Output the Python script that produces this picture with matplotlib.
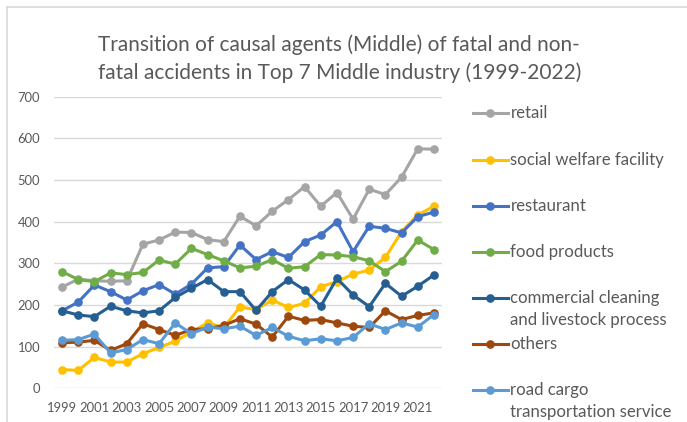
import matplotlib
matplotlib.use('Agg')
import matplotlib.pyplot as plt
from matplotlib.lines import Line2D

# ---------------- data ----------------
years = list(range(1999, 2023))
retail = [243, 262, 258, 257, 258, 346, 356, 375, 374, 357, 352, 413,
          390, 425, 453, 484, 437, 470, 406, 478, 465, 507, 575, 574]
social_welfare = [45, 43, 74, 63, 63, 83, 98, 113, 135, 157, 146, 195,
                  189, 212, 194, 204, 244, 256, 274, 284, 314, 376, 416, 437]
restaurant = [186, 207, 248, 232, 212, 234, 249, 226, 250, 289, 292, 344,
              309, 328, 314, 352, 368, 400, 328, 389, 384, 373, 412, 423]
food_products = [280, 261, 256, 277, 273, 278, 308, 298, 336, 321, 306, 289,
                 293, 309, 288, 292, 321, 320, 316, 306, 280, 305, 356, 333]
commercial_cleaning = [186, 176, 172, 197, 186, 181, 186, 218, 240, 261, 232, 232,
                       187, 232, 261, 236, 197, 264, 224, 196, 252, 221, 245, 272]
others = [109, 111, 115, 91, 107, 155, 141, 127, 141, 143, 151, 167,
          154, 123, 173, 163, 165, 157, 149, 146, 186, 165, 175, 181]
road_cargo = [115, 117, 130, 85, 93, 117, 107, 157, 131, 147, 143, 149,
              127, 146, 125, 114, 119, 114, 122, 155, 141, 157, 147, 177]

series_labels = [
    ["retail"],
    ["social welfare facility"],
    ["restaurant"],
    ["food products"],
    ["commercial cleaning", "and livestock process"],
    ["others"],
    ["road cargo", "transportation service"],
]
series_values = [retail, social_welfare, restaurant, food_products,
                 commercial_cleaning, others, road_cargo]
colors = ["#A5A5A5", "#FFC000", "#4472C4", "#70AD47", "#255E91", "#9E480E", "#5B9BD5"]
x_tick_years = list(range(1999, 2022, 2))
y_ticks = list(range(0, 701, 100))
title_lines = ["Transition of causal agents (Middle) of fatal and non-",
               "fatal accidents in Top 7 Middle industry (1999-2022)"]

# ---------------- layout ----------------
W, H = 687, 422
FONT = ['Lato', 'DejaVu Sans']
TXT = '#595959'
GRID = '#D9D9D9'

fig = plt.figure(figsize=(W / 100, H / 100), dpi=100)
renderer = fig.canvas.get_renderer()


def fx(x):
    return x / W


def fy(y):
    return 1 - y / H


def size_for(text, target_w, base=10):
    t = fig.text(0, 0, text, fontsize=base, family=FONT)
    w = t.get_window_extent(renderer).width
    t.remove()
    return base * target_w / w


# frame
fig.add_artist(Line2D([fx(6.5), fx(6.5)], [fy(6.5), fy(430)], color=GRID, lw=1.2))
fig.add_artist(Line2D([fx(6.5), fx(690)], [fy(6.5), fy(6.5)], color=GRID, lw=1.2))

ax_left, ax_right, ax_top, ax_bottom = 54, 442, 96.7, 388.3
ax = fig.add_axes([fx(ax_left), fy(ax_bottom), fx(ax_right - ax_left),
                   (ax_bottom - ax_top) / H])
ax.set_xlim(1998.5, 2022.5)
ax.set_ylim(0, 700)
ax.set_yticks(y_ticks)
ax.set_xticks(x_tick_years)
for s in ax.spines.values():
    s.set_visible(False)
ax.grid(axis='y', color=GRID, lw=1.0)
ax.set_axisbelow(True)

tick_fs = size_for("1999", 30)
ax.tick_params(axis='both', length=0, labelcolor=TXT, labelsize=tick_fs)
ax.tick_params(axis='y', pad=10)
ax.tick_params(axis='x', pad=10)
for lab in ax.get_xticklabels() + ax.get_yticklabels():
    lab.set_family(FONT)

for vals, c in zip(series_values, colors):
    ax.plot(years, vals, color=c, lw=2.2, marker='o', markersize=5.2,
            solid_capstyle='round', zorder=3)

# title
title_fs = size_for(title_lines[0], 482)
fig.text(fx(339), fy(51), title_lines[0], ha='center', va='baseline',
         fontsize=title_fs, color=TXT, family=FONT)
fig.text(fx(340), fy(79), title_lines[1], ha='center', va='baseline',
         fontsize=title_fs, color=TXT, family=FONT)

# legend
leg_fs = size_for("social welfare facility", 154)
leg_y = [113.3, 160, 205.7, 251.7, 297.7, 344, 390]
for labs, c, y in zip(series_labels, colors, leg_y):
    fig.add_artist(Line2D([fx(473), fx(490), fx(508)], [fy(y)] * 3, color=c,
                          lw=2.2, marker='o', markersize=5.2, markevery=[1]))
    for k, line in enumerate(labs):
        fig.text(fx(510.5), fy(y + 5 + 22.5 * k), line, ha='left', va='baseline',
                 fontsize=leg_fs, color=TXT, family=FONT)

fig.savefig('out.png', dpi=100)
